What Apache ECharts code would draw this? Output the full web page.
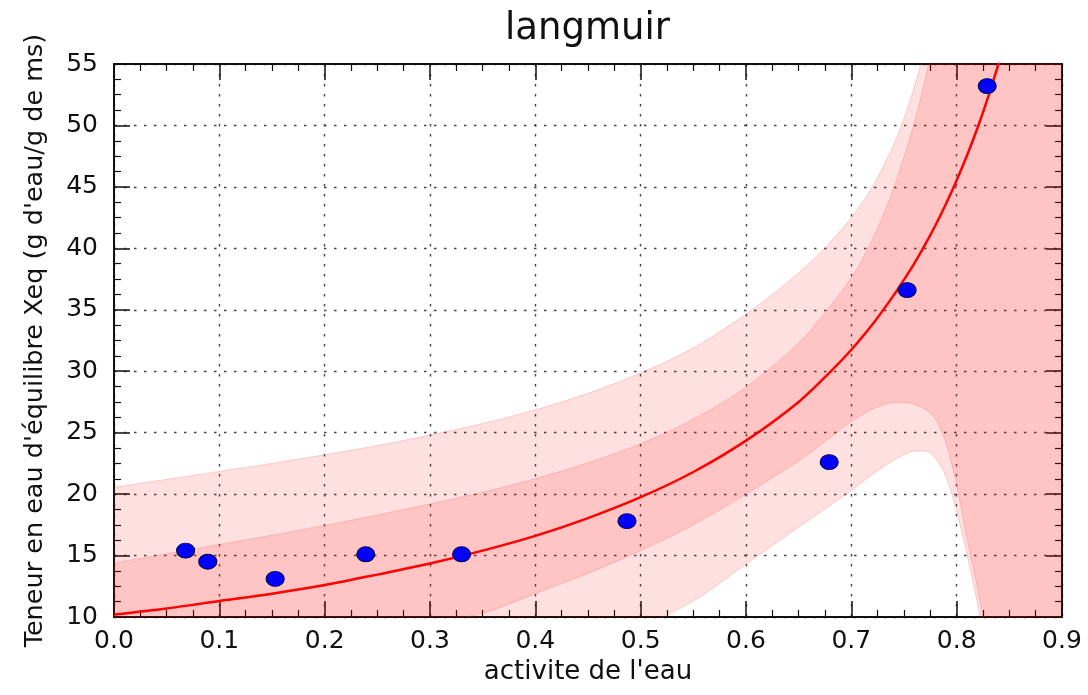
<!DOCTYPE html>
<html>
<head>
<meta charset="utf-8">
<script src="https://cdn.jsdelivr.net/npm/echarts@6/dist/echarts.min.js"></script>
<style>
  html, body { margin: 0; padding: 0; background: #fff; }
  #chart { width: 1088px; height: 695px; }
</style>
</head>
<body>
<div id="chart"></div>
<script>
/* ── data ── */
const AW       = [0, 0.05, 0.1, 0.15, 0.2, 0.25, 0.3, 0.35, 0.4, 0.45, 0.5, 0.55, 0.6, 0.65, 0.68, 0.7, 0.72, 0.74, 0.75, 0.76, 0.77, 0.78, 0.79, 0.8, 0.81, 0.82, 0.83, 0.84, 0.85, 0.9]
const FIT      = [10.2, 10.7, 11.3, 11.9, 12.6, 13.45, 14.35, 15.4, 16.6, 18.05, 19.75, 21.8, 24.35, 27.5, 29.95, 31.75, 33.8, 36.15, 37.45, 38.8, 40.3, 41.9, 43.65, 45.55, 47.6, 49.85, 52.35, 55.1, 58.1, 80.3]
const INNER_HI = [14.4, 15.15, 15.9, 16.65, 17.45, 18.3, 19.2, 20.15, 21.25, 22.55, 24.1, 26.1, 28.7, 32.3, 35.3, 37.6, 40.7, 44.85, 47.45, 50.3, 53.7, 57.7, 63.15, 70.35, 78.9, 87.45, 97.35, 110.1, 123.1, 230]
const INNER_LO = [6.0, 6.2, 6.55, 7.05, 7.7, 8.55, 9.45, 10.3, 11.9, 13.55, 15.4, 17.5, 20.0, 22.7, 24.6, 25.9, 26.9, 27.45, 27.45, 27.3, 26.9, 26.1, 24.15, 20.75, 16.3, 12.25, 7.35, 0.1, -6.9, -70]
const OUTER_HI = [20.55, 21.2, 21.85, 22.5, 23.2, 23.95, 24.8, 25.75, 26.85, 28.2, 29.85, 31.9, 34.65, 38.0, 40.5, 42.5, 45.0, 48.4, 50.6, 53.2, 56.3, 60.2, 65.5, 72.5, 80.4, 88.85, 98.35, 110.1, 123.1, 230]
const OUTER_LO = [-0.15, 0.15, 0.6, 1.2, 2.0, 2.95, 3.9, 5.0, 6.3, 7.6, 9.2, 11.3, 14.3, 17.3, 19.1, 20.3, 21.6, 22.75, 23.2, 23.5, 23.5, 22.9, 21.4, 18.6, 15.0, 11.0, 6.3, 0.1, -6.9, -70]

// mesures
const PTS_X = [0.068, 0.089, 0.153, 0.239, 0.330, 0.487, 0.679, 0.753, 0.829]
const PTS_Y = [15.4, 14.5, 13.1, 15.1, 15.1, 17.8, 22.6, 36.6, 53.2]

const FONT = 'DejaVu Sans'
const BAND = 'rgba(255,0,0,0.12)'
const EDGE = 'rgba(255,60,60,0.22)'

function pairs(xs, ys) { return xs.map((x, i) => [x, ys[i]]) }

// a band = lower line + (upper - lower) stacked on it.
// y goes first in each item so the stack runs on y, not on the value x axis
function band(name, lo, hi) {
  const common = {
    type: 'line', stack: name, stackStrategy: 'all', smooth: 0.3,
    symbol: 'none', silent: true, clip: true,
    encode: { x: 1, y: 0 },
    lineStyle: { color: EDGE, width: 1 },
  }
  return [
    { ...common, name: name + '_lo', data: AW.map((x, i) => [lo[i], x]) },
    { ...common, name: name + '_hi', data: AW.map((x, i) => [hi[i] - lo[i], x]),
      areaStyle: { color: BAND, opacity: 1 } },
  ]
}

const gridLine = { show: true, lineStyle: { color: '#444', width: 1.4, type: [2.5, 7.5] } }
const frame = { show: true, onZero: false, lineStyle: { color: '#111', width: 2 } }
const tick = { inside: true, length: 16, lineStyle: { color: '#111', width: 1.5 } }
const minor = { show: true, splitNumber: 4, length: 7, lineStyle: { color: '#111', width: 1.2 } }

const chart = echarts.init(document.getElementById('chart'), null, { renderer: 'canvas' })
chart.setOption({
  animation: false,
  backgroundColor: '#fff',
  title: {
    text: 'langmuir', left: 500, top: 6,
    textStyle: { fontFamily: FONT, fontSize: 37, fontWeight: 'normal', color: '#111' },
  },
  grid: { left: 114, right: 26, top: 64, bottom: 78, containLabel: false, outerBoundsMode: 'none' },
  xAxis: [
    {
      type: 'value', min: 0, max: 0.9, interval: 0.1,
      name: "activite de l'eau", nameLocation: 'middle', nameGap: 38,
      nameTextStyle: { fontFamily: FONT, fontSize: 26, color: '#111' },
      axisLine: frame, axisTick: tick, minorTick: minor,
      axisLabel: { fontFamily: FONT, fontSize: 25, color: '#111', margin: 12, formatter: v => v.toFixed(1) },
      splitLine: gridLine,
    },
    {
      type: 'value', min: 0, max: 0.9, interval: 0.1, position: 'top',
      axisLine: frame, axisTick: tick, minorTick: minor,
      axisLabel: { show: false }, splitLine: { show: false },
    },
  ],
  yAxis: [
    {
      type: 'value', min: 10, max: 55, interval: 5,
      name: "Teneur en eau d'équilibre Xeq (g d'eau/g de ms)", nameLocation: 'middle', nameGap: 66,
      nameTextStyle: { fontFamily: FONT, fontSize: 25.5, color: '#111' },
      axisLine: frame, axisTick: tick, minorTick: minor,
      axisLabel: { fontFamily: FONT, fontSize: 25, color: '#111', margin: 16 },
      splitLine: gridLine,
    },
    {
      type: 'value', min: 10, max: 55, interval: 5, position: 'right',
      axisLine: frame, axisTick: tick, minorTick: minor,
      axisLabel: { show: false }, splitLine: { show: false },
    },
  ],
  series: [
    ...band('outer', OUTER_LO, OUTER_HI),
    ...band('inner', INNER_LO, INNER_HI),
    {
      name: 'fit', type: 'line', smooth: 0.3, symbol: 'none', clip: true, z: 5,
      data: pairs(AW, FIT),
      lineStyle: { color: '#ff0000', width: 2.5 },
    },
    {
      name: 'mesures', type: 'scatter', z: 6,
      data: pairs(PTS_X, PTS_Y),
      symbol: 'circle', symbolSize: [18, 15],
      itemStyle: { color: '#0000ff', borderColor: '#000044', borderWidth: 1, opacity: 1 },
    },
  ],
})
</script>
</body>
</html>
